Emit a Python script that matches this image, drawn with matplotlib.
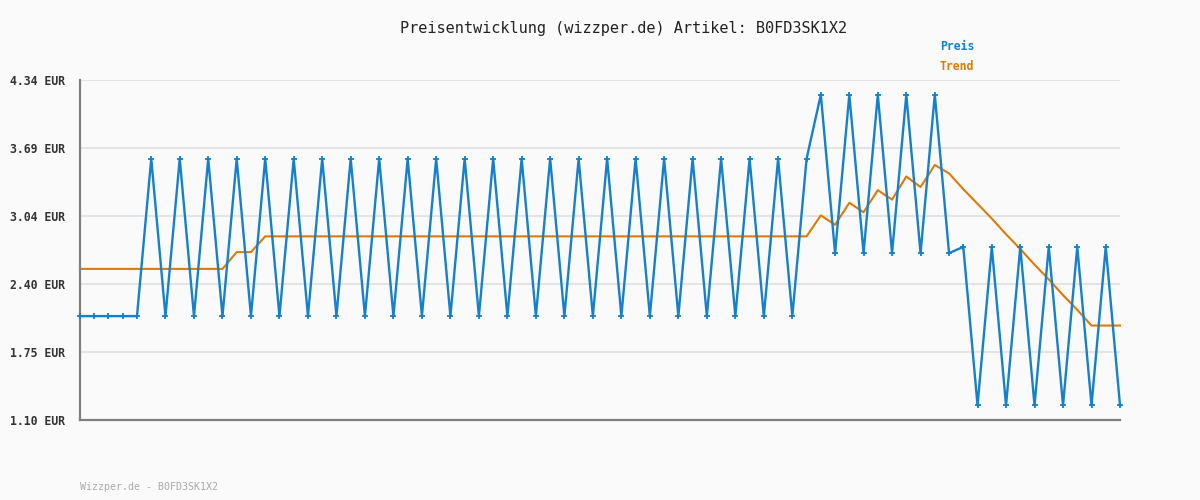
import matplotlib
matplotlib.use("Agg")
import matplotlib.pyplot as plt

# Preis: index 0..73
preis = ([2.09] * 5
         + [3.59, 2.09] * 22 + [3.59]
         + [2.09, 3.59]
         + [4.20, 2.69] * 5
         + [2.75, 1.24] * 6)
preis = preis[:74]

trend = ([2.54] * 11
         + [2.70, 2.70]
         + [2.85] * 39
         + [3.05, 2.96, 3.17, 3.08, 3.29, 3.20, 3.42, 3.32, 3.53, 3.45,
            3.30, 3.16, 3.02, 2.87, 2.73, 2.58, 2.44, 2.29, 2.15, 2.00,
            2.00, 2.00])
trend = trend[:74]

y_ticks = [1.10, 1.75, 2.40, 3.04, 3.69, 4.34]
y_labels = [f"{v:.2f} EUR" for v in y_ticks]

title = "Preisentwicklung (wizzper.de) Artikel: B0FD3SK1X2"
footer = "Wizzper.de - B0FD3SK1X2"

blue = "#1580cc"
orange = "#dd7a0a"
bg = "#fafafa"
mono = ["DejaVu Sans Mono"]

fig = plt.figure(figsize=(12, 5), dpi=100, facecolor=bg)
ax = fig.add_axes([80 / 1200, 0.16, 1040 / 1200, 0.68], facecolor=bg)

x = list(range(len(preis)))
xt = list(range(len(trend)))

for v in y_ticks[1:]:
    ax.axhline(v, color="#e4e4e4", lw=1.5, zorder=0)

ax.plot(xt, trend, color=orange, lw=1.5, zorder=2, clip_on=False)
ax.plot(x, preis, color=blue, lw=1.7, marker="+", ms=5, mew=1.3,
        zorder=3, clip_on=False)

ax.set_xlim(0, len(preis) - 1)
ax.set_ylim(y_ticks[0], y_ticks[-1])
ax.set_xticks([])
ax.set_yticks(y_ticks)
ax.set_yticklabels(y_labels, family=mono, fontsize=8.3, fontweight="bold",
                   color="#333333")
ax.tick_params(axis="y", length=0, pad=11)

for s in ["top", "right"]:
    ax.spines[s].set_visible(False)
for s in ["left", "bottom"]:
    ax.spines[s].set_color("#808080")
    ax.spines[s].set_linewidth(1.6)

fig.text(624 / 1200, 1 - 28 / 500, title, family=mono, fontsize=11,
         color="#222222", ha="center", va="center")
fig.text(940 / 1200, 1 - 47 / 500, "Preis", family=mono, fontsize=8.3,
         fontweight="bold", color=blue, va="center")
fig.text(940 / 1200, 1 - 67 / 500, "Trend", family=mono, fontsize=8.3,
         fontweight="bold", color=orange, va="center")
fig.text(80 / 1200, 1 - 487 / 500, footer, family=mono, fontsize=7.2,
         color="#aaaaaa", va="center")

fig.savefig("out.png", dpi=100, facecolor=bg)
